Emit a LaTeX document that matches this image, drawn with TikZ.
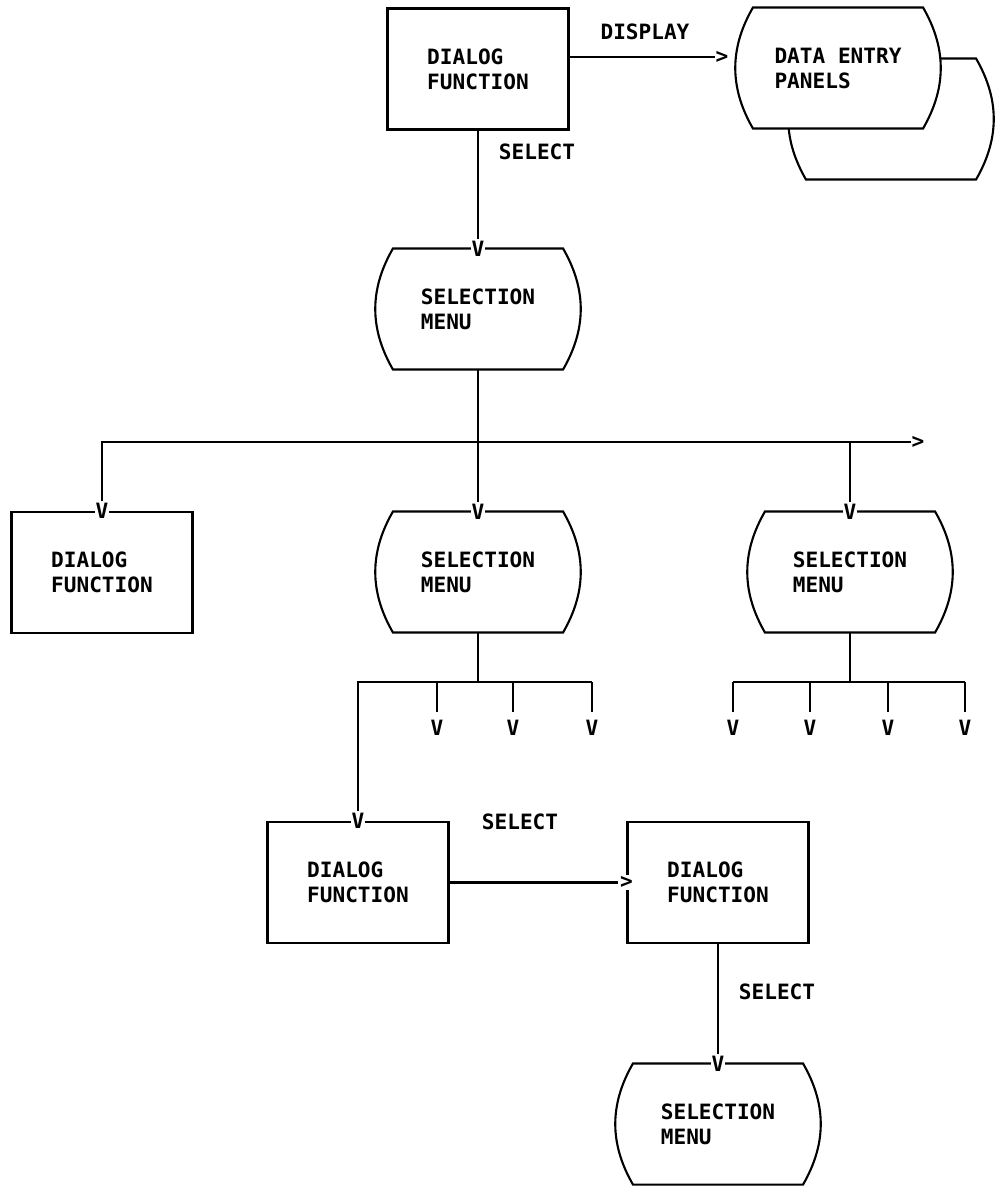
\documentclass[tikz,border=0pt]{standalone}
\usepackage{fontspec}
\setmainfont{DejaVu Sans Mono}
\usetikzlibrary{backgrounds}

\newcommand{\menushape}[2][]{\draw[#1] (#2.north west) to[bend right=30] (#2.south west) -- (#2.south east) to[bend right=30] (#2.north east) -- cycle;}

\begin{document}
\begin{tikzpicture}[x=0.02cm,y=-0.02cm,line width=1.2pt,
  every node/.style={font=\bfseries\fontsize{12}{14.2}\selectfont},
  dlgbox/.style={draw,minimum width=3.62cm,minimum height=2.42cm,align=left},
  menu/.style={minimum width=3.36cm,minimum height=2.38cm,align=left},
  tipv/.style={fill=white,inner sep=0.6pt},
  tipr/.style={inner sep=0pt},
  lbl/.style={inner sep=0pt}]
\useasboundingbox (0,0) rectangle (997,1187);

\node[dlgbox] (dlgA) at (478,69) {DIALOG\\FUNCTION};
\node[menu] (panels) at (838,68) {DATA ENTRY\\PANELS};
\node[menu] (panelsBack) at (891,119) {};
\begin{scope}[on background layer]
\menushape[fill=white,line width=1.2pt]{panelsBack}
\menushape[fill=white,line width=1.2pt]{panels}
\end{scope}

\node[menu] (selA) at (478,309) {SELECTION\\MENU};
\node[dlgbox] (dlgB) at (102,572.5) {DIALOG\\FUNCTION};
\node[menu] (selB) at (478,572) {SELECTION\\MENU};
\node[menu] (selC) at (850,572) {SELECTION\\MENU};
\node[dlgbox] (dlgC) at (358,882.5) {DIALOG\\FUNCTION};
\node[dlgbox] (dlgD) at (718,882.5) {DIALOG\\FUNCTION};
\node[menu] (selD) at (718,1124) {SELECTION\\MENU};

\foreach \m in {selA,selB,selC,selD} {\menushape{\m}}
\foreach \n in {selA,dlgB,selB,selC,dlgC,selD} {\node[tipv] (v\n) at (\n.north) {V};}

\node[tipr] (gtA) at (722,57) {>};
\node[lbl] (lblDisplay) at (645,32) {DISPLAY};
\draw (dlgA.east |- gtA) -- (gtA.west);
\node[lbl] (lblSelA) at (537,152) {SELECT};
\draw (dlgA.south) -- (vselA.north);

\coordinate (busA) at (478,442);
\node[tipr] (gtBus) at (918,442) {>};
\draw (selA.south) -- (busA);
\draw (vdlgB.north) |- (gtBus.west);
\draw (busA) -- (vselB.north);
\draw (vselC.north) -- (vselC.north |- busA);

\coordinate (busB) at (478,682);
\draw (selB.south) -- (busB);
\foreach \x [count=\i] in {437,513,592} {
  \node[tipr] (vb\i) at (\x,728) {V};
  \draw (vb\i.north |- busB) -- ([yshift=4pt]vb\i.north);
}
\draw (vdlgC.north) |- (vb3.north |- busB);

\coordinate (busC) at (850,682);
\draw (selC.south) -- (busC);
\foreach \x [count=\i] in {733,810,888,965} {
  \node[tipr] (vc\i) at (\x,728) {V};
  \draw (vc\i.north |- busC) -- ([yshift=4pt]vc\i.north);
}
\draw (vc1.north |- busC) -- (vc4.north |- busC);

\node[tipv] (gtC) at (dlgD.west) {>};
\draw (dlgC.east) -- (gtC.west);
\node[lbl] (lblSelC) at (520,822) {SELECT};
\draw (dlgD.south) -- (vselD.north);
\node[lbl] (lblSelD) at (777,992) {SELECT};

\end{tikzpicture}
\end{document}
